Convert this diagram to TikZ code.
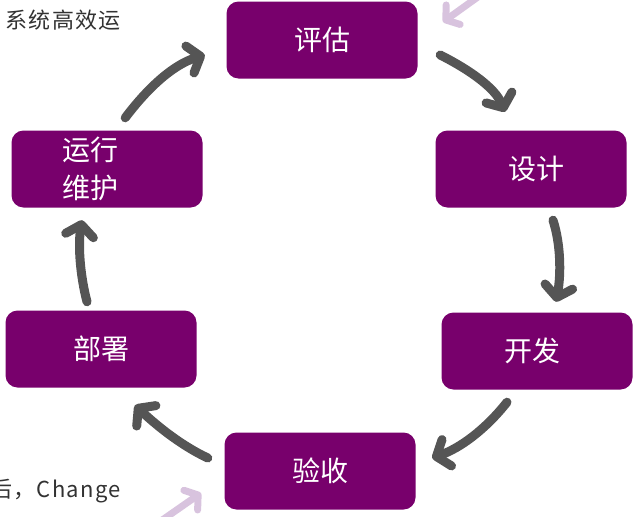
\documentclass[tikz,border=0pt]{standalone}
\usepackage{fontspec}
\setmainfont{Noto Sans CJK SC}
\usetikzlibrary{arrows.meta}
\definecolor{boxpurple}{RGB}{120,0,108}
\definecolor{arrowgray}{RGB}{85,85,85}
\definecolor{lightarrow}{RGB}{216,195,222}
\definecolor{textgray}{RGB}{50,50,50}
\tikzset{
  stagebox/.style={fill=boxpurple, rounded corners=12pt, minimum width=191pt, minimum height=77pt,
    text=white, font=\fontsize{28}{38}\selectfont, inner sep=0pt},
  cyclearrow/.style={draw=arrowgray, line width=9pt, line cap=round,
    -{Straight Barb[length=11pt,width=28pt,line cap=round,line join=round]}},
  faintarrow/.style={draw=lightarrow, line width=7pt, line cap=round,
    -{Straight Barb[length=9pt,width=24pt,line cap=round,line join=round]}},
  sidetext/.style={text=textgray, font=\fontsize{22}{26}\selectfont\addfontfeatures{LetterSpace=6}, inner sep=0pt}
}
\begin{document}
\begin{tikzpicture}[x=1pt,y=-1pt]
\useasboundingbox (0,0) rectangle (635,517);
\clip (0,0) rectangle (635,517);
% side texts (cut off by the picture edge)
\node[sidetext, anchor=base east] (toptext) at (121,28) {系统高效运};
\node[sidetext, anchor=base east] (bottext) at (121,497) {后，Change};
% faint arrows
\coordinate (fa1) at (482,-6);
\coordinate (fa1t) at (443,22);
\coordinate (fa2) at (158,523);
\coordinate (fa2t) at (201,493);
\draw[faintarrow] (fa1) -- (fa1t);
\draw[faintarrow] (fa2) -- (fa2t);
% boxes
\node[stagebox] (eval) at (322,40) {评估};
\node[stagebox] (design) at (531,169) {\hspace{10pt}设计};
\node[stagebox] (dev) at (537,351) {\hspace{-10pt}开发};
\node[stagebox] (accept) at (320,471) {验收};
\node[stagebox] (deploy) at (101,349) {部署};
\node[stagebox, align=left, text width=89pt, inner xsep=51pt] (ops) at (107,169) {运行\\维护};
% cycle arrows (yshift positive = up)
\draw[cyclearrow] ([xshift=-77.5pt,yshift=12.5pt]ops.north east) .. controls (150,85) and (175,64) .. ([xshift=-21.5pt,yshift=-15pt]eval.west);
\draw[cyclearrow] ([xshift=22.5pt,yshift=-15pt]eval.east) .. controls (470,70) and (495,88) .. ([xshift=-26pt,yshift=18.5pt]design.north);
\draw[cyclearrow] ([xshift=22pt,yshift=-12.5pt]design.south) .. controls (561,245) and (561,275) .. ([xshift=19pt,yshift=10.5pt]dev.north);
\draw[cyclearrow] ([xshift=-30pt,yshift=-12.5pt]dev.south) .. controls (485,430) and (460,448) .. ([xshift=16.5pt,yshift=13pt]accept.east);
\draw[cyclearrow] ([xshift=-16.5pt,yshift=13pt]accept.west) .. controls (180,445) and (155,424) .. ([xshift=34pt,yshift=-17.5pt]deploy.south);
\draw[cyclearrow] ([xshift=-14pt,yshift=8.5pt]deploy.north) .. controls (80,275) and (78,245) .. ([xshift=-25pt,yshift=-12.5pt]ops.south);
\end{tikzpicture}
\end{document}
